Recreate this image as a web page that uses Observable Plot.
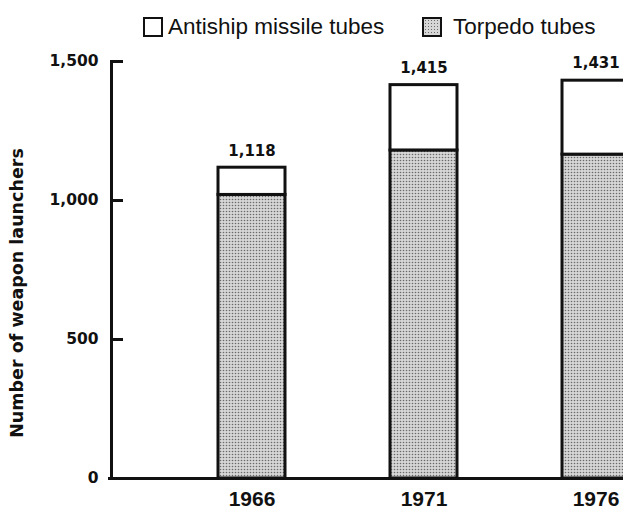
<!DOCTYPE html>
<html>
<head>
<meta charset="utf-8">
<script src="https://cdn.jsdelivr.net/npm/d3@7"></script>
<script src="https://cdn.jsdelivr.net/npm/@observablehq/plot@0.6"></script>
<style>
  html, body { margin: 0; padding: 0; background: #fff; overflow: hidden; width: 623px; height: 511px; }
  #legend { position: relative; height: 45px; font-family: "Liberation Sans", Arial, sans-serif; font-size: 22.5px; color: #111; }
  .item { position: absolute; top: 14px; display: flex; align-items: center; }
  .sw { width: 16px; height: 16px; border: 2.5px solid #111; box-sizing: content-box; }
  .sw.missile { background: #fff; margin-right: 5px; }
  .sw.torpedo { background-color: #d6d6d6; background-image: radial-gradient(#6a6a6a 35%, transparent 40%); background-size: 3px 3px; margin-right: 11px; }
  #chart { width: 623px; overflow: hidden; }
  #chart svg { display: block; max-width: none !important; }
</style>
</head>
<body>
<div id="legend"></div>
<div id="chart"></div>
<script>
// Data
const years = ["1966", "1971", "1976"];
const torpedoTubes = [1020, 1180, 1165];
const missileTubes = [98, 235, 266];
const totals = [1118, 1415, 1431];
const yTicks = [0, 500, 1000, 1500];
const seriesNames = ["Torpedo tubes", "Antiship missile tubes"];
const legendOrder = ["Antiship missile tubes", "Torpedo tubes"];

// Legend (HTML, above the SVG)
const legend = document.getElementById("legend");
const legendLeft = [143, 422];
legendOrder.forEach((name, i) => {
  const it = document.createElement("div");
  it.className = "item";
  it.style.left = legendLeft[i] + "px";
  const sw = document.createElement("span");
  sw.className = "sw " + (name.startsWith("Antiship") ? "missile" : "torpedo");
  const tx = document.createElement("span");
  tx.textContent = name;
  it.appendChild(sw);
  it.appendChild(tx);
  legend.appendChild(it);
});

// Long table for stacking
const rows = [];
years.forEach((y, i) => {
  rows.push({year: y, type: seriesNames[0], value: torpedoTubes[i]});
  rows.push({year: y, type: seriesNames[1], value: missileTubes[i]});
});
const totalRows = years.map((y, i) => ({year: y, total: totals[i]}));

const fmt = d3.format(",");

const svg = Plot.plot({
  width: 735,
  height: 466,
  marginTop: 16,
  marginBottom: 33,
  marginLeft: 111,
  marginRight: 0,
  style: {fontFamily: "'DejaVu Sans', sans-serif", color: "#111", background: "#fff", maxWidth: "none"},
  x: {domain: years, paddingInner: 0.613, paddingOuter: 0.61, label: null},
  y: {domain: [0, 1500], label: null},
  color: {domain: seriesNames, range: ["url(#stipple)", "#fff"]},
  marks: [
    Plot.barY(rows, {x: "year", y: "value", fill: "type", stroke: "#111", strokeWidth: 3}),
    Plot.text(totalRows, {x: "year", y: "total", text: d => fmt(d.total), dy: -17, fontSize: 15, fontWeight: "bold", fill: "#111"}),
    Plot.axisX({tickSize: 0, tickPadding: 13, fontSize: 21, fontWeight: "bold", fontFamily: "'Liberation Sans', Arial, sans-serif", label: null}),
    Plot.axisY({ticks: yTicks, tickSize: 0, tickPadding: 13, tickFormat: fmt, fontSize: 15.5, fontWeight: "bold", label: null}),
    Plot.axisY({ticks: yTicks, tickSize: 12, insetLeft: 12, strokeWidth: 3, tickFormat: () => "", label: null}),
    Plot.frame({anchor: "left", strokeWidth: 3, stroke: "#111"}),
    Plot.ruleY([0], {strokeWidth: 3, stroke: "#111", insetLeft: -3}),
    Plot.text(["Number of weapon launchers"], {frameAnchor: "left", text: d => d, textAnchor: "middle", rotate: -90, dx: -94, dy: 23, fontSize: 17.5, fontWeight: "bold", fill: "#111"})
  ]
});

// Stipple pattern for the torpedo fill
const s = d3.select(svg);
const defs = s.insert("defs", ":first-child");
const pat = defs.append("pattern").attr("id", "stipple").attr("patternUnits", "userSpaceOnUse").attr("width", 3).attr("height", 3);
pat.append("rect").attr("width", 3).attr("height", 3).attr("fill", "#d6d6d6");
pat.append("circle").attr("cx", 1.5).attr("cy", 1.5).attr("r", 0.8).attr("fill", "#6a6a6a");

document.getElementById("chart").appendChild(svg);
</script>
</body>
</html>
